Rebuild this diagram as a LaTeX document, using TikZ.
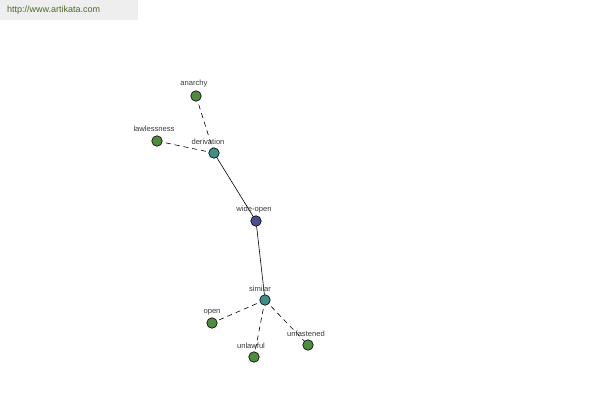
\documentclass[tikz,border=0pt]{standalone}
\usepackage{fontspec}
\setmainfont{Liberation Sans}
\definecolor{leaf}{HTML}{4E8C3E}
\definecolor{hub}{HTML}{3E8E8A}
\definecolor{core}{HTML}{4A4E8E}
\definecolor{urlbg}{HTML}{EEEEEE}
\definecolor{urltext}{HTML}{4A6B2A}
\definecolor{lbl}{HTML}{3A3A3A}
\begin{document}
\begin{tikzpicture}[x=1pt,y=-1pt,
  dot/.style={circle,draw=black,line width=0.6pt,minimum size=10.5pt,inner sep=0pt},
  lab/.style={font=\fontsize{7.6}{9}\selectfont,text=lbl,inner sep=0pt},
  solidedge/.style={draw=black,line width=0.6pt},
  dashedge/.style={draw=black,line width=0.6pt,dash pattern=on 5pt off 4pt}]
\useasboundingbox (0,0) rectangle (600,400);
\fill[white] (0,0) rectangle (600,400);
\fill[urlbg] (0,0) rectangle (138,20);
\node[anchor=west,text=urltext,font=\fontsize{9}{10}\selectfont,inner sep=0pt] (url) at (7,10.5) {http://www.artikata.com};
% node centres
\coordinate (anarchyC) at (196,96);
\coordinate (lawC) at (157,141);
\coordinate (derivC) at (214,153);
\coordinate (wideC) at (256,221);
\coordinate (simC) at (265,300);
\coordinate (openC) at (212,323);
\coordinate (unlawC) at (254,357);
\coordinate (unfastC) at (308,345);
% edges
\draw[dashedge] (anarchyC) -- (derivC);
\draw[dashedge] (lawC) -- (derivC);
\draw[solidedge] (derivC) -- (wideC);
\draw[solidedge] (wideC) -- (simC);
\draw[dashedge] (simC) -- (openC);
\draw[dashedge] (simC) -- (unlawC);
\draw[dashedge] (simC) -- (unfastC);
% circles
\node[dot,fill=leaf] (anarchy) at (anarchyC) {};
\node[dot,fill=leaf] (law) at (lawC) {};
\node[dot,fill=hub] (deriv) at (derivC) {};
\node[dot,fill=core] (wide) at (wideC) {};
\node[dot,fill=hub] (sim) at (simC) {};
\node[dot,fill=leaf] (open) at (openC) {};
\node[dot,fill=leaf] (unlaw) at (unlawC) {};
\node[dot,fill=leaf] (unfast) at (unfastC) {};
% labels
\node[lab] (tanarchy) at (194,84) {anarchy};
\node[lab] (tlaw) at (154,129) {lawlessness};
\node[lab] (tderiv) at (208,142) {derivation};
\node[lab] (twide) at (254,210) {wide-open};
\node[lab] (tsim) at (260,289) {similar};
\node[lab] (topen) at (212,312) {open};
\node[lab] (tunlaw) at (251,346) {unlawful};
\node[lab] (tunfast) at (306,334) {unfastened};
\end{tikzpicture}
\end{document}
